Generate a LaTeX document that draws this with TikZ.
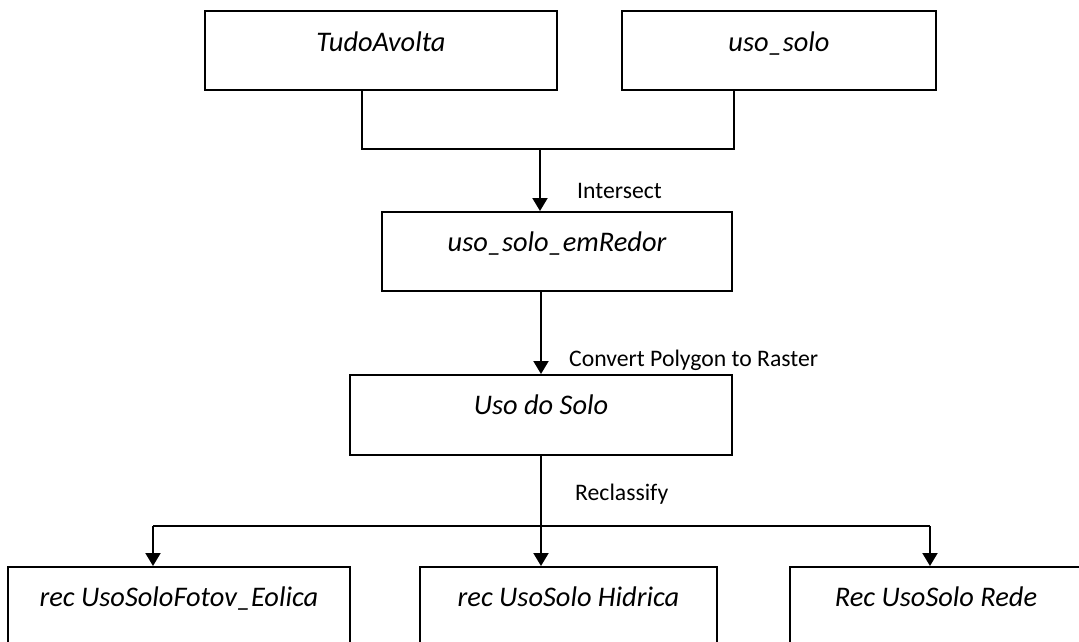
\documentclass[tikz,border=0pt]{standalone}
\usepackage{fontspec}
\setmainfont{Carlito}
\usetikzlibrary{arrows.meta,calc}
\begin{document}
\begin{tikzpicture}[x=1pt,y=-1pt,
 box/.style={draw,line width=2pt,rectangle,inner sep=0pt,font=\fontsize{28.4}{34}\selectfont\itshape},
 lbl/.style={anchor=base west,inner sep=0pt,font=\fontsize{23.7}{28}\selectfont},
 conn/.style={line width=1.4pt},
 arr/.style={line width=2pt,-{Triangle[width=15pt,length=13pt]}}]
\useasboundingbox (0,0) rectangle (1079,642);
\clip (0,0) rectangle (1079,642);
\node[box,minimum width=352pt,minimum height=79pt,text height=41pt,text depth=38pt] (a) at (381,50.5) {TudoAvolta};
\node[box,minimum width=314pt,minimum height=79pt,text height=41pt,text depth=38pt] (b) at (779,50.5) {uso\_solo};
\node[box,minimum width=350pt,minimum height=79pt,text height=39pt,text depth=40pt] (c) at (557,251.5) {uso\_solo\_emRedor};
\node[box,minimum width=382pt,minimum height=80pt,text height=39pt,text depth=41pt] (d) at (541,415) {Uso do Solo};
\node[box,minimum width=342pt,minimum height=100pt,text height=39pt,text depth=61pt] (e) at (179,617) {rec UsoSoloFotov\_Eolica};
\node[box,minimum width=297pt,minimum height=100pt,text height=39pt,text depth=61pt] (f) at (568.5,617) {rec UsoSolo Hidrica};
\node[box,minimum width=292pt,minimum height=100pt,text height=39pt,text depth=61pt] (g) at (936,617) {Rec UsoSolo Rede};
\coordinate (m1) at (362,149);
\coordinate (m2) at (734,149);
\coordinate (j1) at (540,149);
\draw[conn] (a.south -| m1) -- (m1) -- (m2) -- (b.south -| m2);
\draw[arr] (j1) -- (c.north -| j1);
\draw[arr] (c.south -| d.north) -- (d.north);
\coordinate (j2) at (541,526);
\coordinate (l) at (153,526);
\coordinate (r) at (930,526);
\draw[conn] (d.south) -- (j2);
\draw[line width=2pt] (l) -- (r);
\draw[arr] (l) -- (e.north -| l);
\draw[arr] (j2) -- (f.north -| j2);
\draw[arr] (r) -- (g.north -| r);
\node[lbl] (t1) at (577,198) {Intersect};
\node[lbl] (t2) at (569,366) {Convert Polygon to Raster};
\node[lbl] (t3) at (575,500) {Reclassify};
\end{tikzpicture}
\end{document}
